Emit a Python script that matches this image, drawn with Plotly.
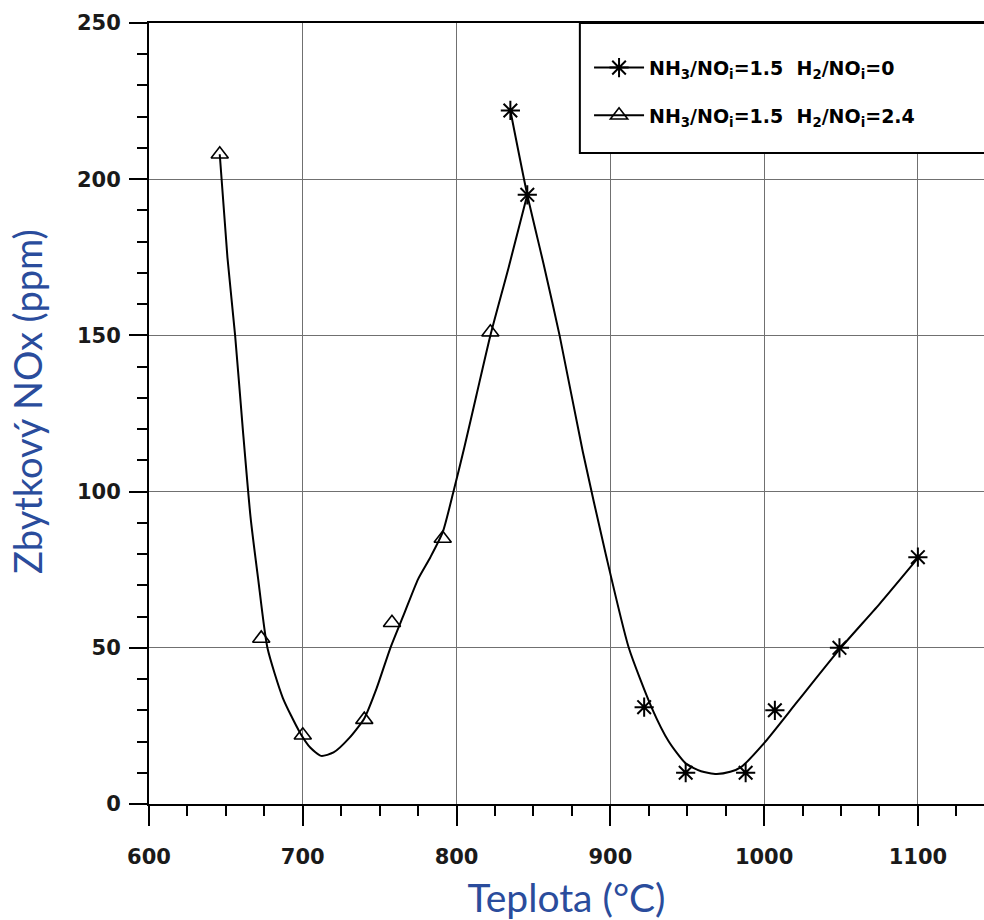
import plotly.graph_objects as go

# ---- data ----
temp_tri = [646, 673, 700, 740, 758, 791, 822]
nox_tri = [208, 53, 22, 27, 58, 85, 151]

temp_star = [835, 846, 922, 949, 988, 1007, 1049, 1100]
nox_star = [222, 195, 31, 10, 10, 30, 50, 79]

# hand-drawn fitted curves
curve_tri_x = [646, 651, 656, 661, 666, 671, 677, 687, 698, 705, 712, 720, 730, 740, 748, 757, 766, 775, 783, 791, 798, 805, 813, 822, 834, 846]
curve_tri_y = [208, 175, 150, 120, 92, 72, 50, 34, 23, 18, 15.4, 16.5, 21, 27.4, 37, 50, 61, 72, 79, 87, 100, 114, 131, 150, 172, 195]

curve_star_x = [835, 846, 857, 867, 882, 897, 912, 927, 938, 949, 959, 969, 978, 985, 1000, 1022, 1049, 1075, 1100]
curve_star_y = [222, 195, 172, 150, 113, 80, 50, 30.7, 20, 13, 10.5, 9.6, 10.3, 11.8, 19.5, 33, 49.5, 64, 78.7]

x_ticks = [600, 700, 800, 900, 1000, 1100]
y_ticks = [0, 50, 100, 150, 200, 250]

label_star = "NH<sub>3</sub>/NO<sub>i</sub>=1.5\u00a0\u00a0H<sub>2</sub>/NO<sub>i</sub>=0"
label_tri = "NH<sub>3</sub>/NO<sub>i</sub>=1.5\u00a0\u00a0H<sub>2</sub>/NO<sub>i</sub>=2.4"

x_title = "Teplota (°C)"
y_title = "Zbytkový NOx (ppm)"

TITLE_COLOR = "#2A4C9C"
TICK_FONT = dict(family="DejaVu Sans", size=21, color="#1a1a1a", weight="bold")

fig = go.Figure()

# curves
fig.add_trace(go.Scatter(x=curve_tri_x, y=curve_tri_y, mode="lines",
                         line=dict(color="black", width=2, shape="spline", smoothing=0.6),
                         showlegend=False, hoverinfo="skip"))
fig.add_trace(go.Scatter(x=curve_star_x, y=curve_star_y, mode="lines",
                         line=dict(color="black", width=2, shape="spline", smoothing=0.6),
                         showlegend=False, hoverinfo="skip"))

# markers
fig.add_trace(go.Scatter(x=temp_tri, y=nox_tri, mode="markers",
                         marker=dict(symbol="triangle-up-open", size=15, color="black",
                                     line=dict(width=1.6, color="black")),
                         showlegend=False))
fig.add_trace(go.Scatter(x=temp_star, y=nox_star, mode="markers",
                         marker=dict(symbol="asterisk-open", size=16, color="black",
                                     line=dict(width=2, color="black")),
                         showlegend=False))

# legend entries
fig.add_trace(go.Scatter(x=[None], y=[None], mode="lines+markers", name=label_star,
                         legendgroup="a",
                         line=dict(color="black", width=2),
                         marker=dict(symbol="asterisk-open", size=16, color="black",
                                     line=dict(width=2, color="black"))))
fig.add_trace(go.Scatter(x=[None], y=[None], mode="lines+markers", name=label_tri,
                         legendgroup="b",
                         line=dict(color="black", width=2),
                         marker=dict(symbol="triangle-up-open", size=15, color="black",
                                     line=dict(width=1.6, color="black"))))

fig.update_layout(
    width=984, height=920,
    margin=dict(l=149, r=0, t=23, b=116, autoexpand=False),
    paper_bgcolor="white", plot_bgcolor="white",
    showlegend=True,
    legend=dict(x=0.527, y=0.967, xanchor="left", yanchor="top",
                bgcolor="rgba(0,0,0,0)", borderwidth=0,
                font=dict(family="DejaVu Sans", size=19, color="black", weight="bold"),
                traceorder="grouped", tracegroupgap=20, itemwidth=50),
    shapes=[dict(type="rect", xref="paper", yref="paper",
                 x0=0.516, x1=1.1, y0=0.8335, y1=1.0,
                 line=dict(color="black", width=2), fillcolor="white", layer="above")],
    annotations=[dict(text=y_title, xref="paper", yref="paper",
                      x=-0.146, y=0.515, xanchor="center", yanchor="middle",
                      textangle=-90, showarrow=False,
                      font=dict(family="Lato", size=38, color=TITLE_COLOR))],
)

fig.update_xaxes(
    range=[600, 1143], tickvals=x_ticks, ticktext=[str(v) for v in x_ticks],
    ticks="outside", ticklen=20, tickwidth=2, tickcolor="black",
    showline=True, linecolor="black", linewidth=2, mirror=True,
    showgrid=True, gridcolor="#707070", gridwidth=1, zeroline=False,
    minor=dict(dtick=25, tick0=600, ticks="outside", ticklen=10, tickwidth=1.5,
               tickcolor="black", showgrid=False),
    tickfont=TICK_FONT, ticklabelstandoff=13, automargin=False,
    title=dict(text=x_title, font=dict(family="Lato", size=39, color=TITLE_COLOR), standoff=16),
)
fig.update_yaxes(
    range=[0, 250], tickvals=y_ticks, ticktext=[str(v) for v in y_ticks],
    ticks="outside", ticklen=18, tickwidth=2, tickcolor="black",
    showline=True, linecolor="black", linewidth=2, mirror=False,
    showgrid=True, gridcolor="#707070", gridwidth=1, zeroline=False,
    minor=dict(dtick=10, tick0=0, ticks="outside", ticklen=10, tickwidth=1.5,
               tickcolor="black", showgrid=False),
    tickfont=TICK_FONT, ticklabelstandoff=4, automargin=False,
)

fig.write_html(
    "out.html",
    config={"displayModeBar": False},
    post_script="document.body.style.margin='0';document.documentElement.style.overflow='hidden';",
)
